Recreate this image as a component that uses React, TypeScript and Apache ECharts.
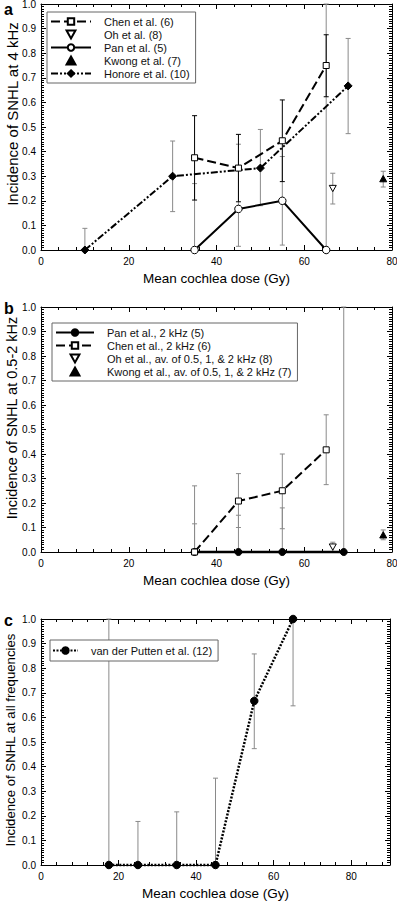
import React, { useEffect, useRef } from 'react';
import * as echarts from 'echarts';

const FONT = '"Liberation Sans", Arial, Helvetica, sans-serif';

// ---------- Panel a: 4 kHz ----------
const chenA = [[35, 0.375], [45, 0.333], [55, 0.444], [65, 0.75]];
const chenAErr = [[35, 0.203, 0.546], [45, 0.196, 0.47], [55, 0.278, 0.61], [65, 0.623, 0.875]];
const ohA = [[66.5, 0.25]];
const ohAErr = [[66.5, 0.187, 0.312]];
const panA = [[35, 0], [45, 0.167], [55, 0.2], [65, 0]];
const panAErr = [[35, 0, 0.27], [45, 0.015, 0.43], [55, 0.02, 0.38], [65, 0, 1.0]];
const kwongA = [[78, 0.29]];
const kwongAErr = [[78, 0.256, 0.32]];
const honoreA = [[10, 0], [30, 0.3], [50, 0.333], [70, 0.667]];
const honoreAErr = [[10, 0, 0.088], [30, 0.156, 0.443], [50, 0.18, 0.49], [70, 0.473, 0.86]];

// ---------- Panel b: 0.5-2 kHz ----------
const panB = [[35, 0], [45, 0], [55, 0], [69, 0]];
const panBErr = [[35, 0, 0.115], [45, 0, 0.15], [55, 0, 0.18], [69, 0, 1.0]];
const chenB = [[35, 0], [45, 0.208], [55, 0.25], [65, 0.417]];
const chenBErr = [[35, 0, 0.27], [45, 0.1, 0.32], [55, 0.095, 0.4], [65, 0.275, 0.56]];
const ohB = [[66.5, 0.02]];
const ohBErr = [[66.5, 0, 0.04]];
const kwongB = [[78, 0.07]];
const kwongBErr = [[78, 0.05, 0.09]];

// ---------- Panel c: all frequencies ----------
const vdpC = [[17.5, 0], [25, 0], [35, 0], [45, 0], [55, 0.667], [65, 1.0]];
const vdpCErr = [[17.5, 0, 1.0], [25, 0, 0.177], [35, 0, 0.216], [45, 0, 0.353], [55, 0.473, 0.858], [65, 0.647, 1.0]];

const xTitle = 'Mean cochlea dose (Gy)';
const yTitles = ['Incidence of SNHL at 4 kHz', 'Incidence of SNHL at 0.5-2 kHz', 'Incidence of SNHL at all frequencies'];
const panelLetters = ['a', 'b', 'c'];
const xMaxes = [80, 80, 90];

const GRIDS = [
  { left: 41, top: 4, width: 351, height: 246 },
  { left: 41, top: 307, width: 351, height: 245 },
  { left: 41, top: 619, width: 349, height: 246 },
];
const Y_TITLE_SIZE = [15, 14.5, 13.2];
const Y_TITLE_POS = [[12, 114], [12, 418], [10.5, 740]];

const BLACK = '#000';
const GRAY = '#8a8a8a';
const DOWN_TRI = 'path://M0,0L10,0L5,9Z';
const UP_TRI = 'path://M5,0L10,9L0,9Z';

function errSeries(data: number[][], gi: number, color: string, z = 1) {
  return {
    type: 'custom',
    xAxisIndex: gi * 2,
    yAxisIndex: gi * 2,
    data,
    z,
    silent: true,
    clip: false,
    encode: { x: 0, y: [1, 2] },
    renderItem: (params: any, api: any) => {
      const x = api.value(0);
      const lo = api.coord([x, api.value(1)]);
      const hi = api.coord([x, api.value(2)]);
      const w = 2.5;
      const st = { stroke: color, lineWidth: 1 };
      return {
        type: 'group',
        children: [
          { type: 'line', shape: { x1: lo[0], y1: lo[1], x2: hi[0], y2: hi[1] }, style: st },
          { type: 'line', shape: { x1: lo[0] - w, y1: lo[1], x2: lo[0] + w, y2: lo[1] }, style: st },
          { type: 'line', shape: { x1: hi[0] - w, y1: hi[1], x2: hi[0] + w, y2: hi[1] }, style: st },
        ],
      };
    },
  };
}

function lineSeries(name: string, data: number[][], gi: number, opts: any) {
  return {
    name,
    type: 'line',
    xAxisIndex: gi * 2,
    yAxisIndex: gi * 2,
    data,
    z: 3,
    clip: false,
    symbol: opts.symbol,
    symbolSize: opts.symbolSize,
    itemStyle: { color: opts.fill, borderColor: BLACK, borderWidth: 1 },
    lineStyle: { color: BLACK, width: opts.width, type: opts.dash },
    showSymbol: true,
  };
}

function scatterSeries(name: string, data: number[][], gi: number, opts: any) {
  return {
    name,
    type: 'scatter',
    xAxisIndex: gi * 2,
    yAxisIndex: gi * 2,
    data,
    z: 3,
    clip: false,
    symbol: opts.symbol,
    symbolSize: opts.symbolSize,
    symbolKeepAspect: true,
    itemStyle: { color: opts.fill, borderColor: BLACK, borderWidth: 1, opacity: 1 },
  };
}

function axesFor(gi: number) {
  const xMax = xMaxes[gi];
  const tick = { show: true, inside: true, length: 5, lineStyle: { color: BLACK, width: 1 } };
  const minor = (n: number) => ({ show: true, splitNumber: n, length: 3, lineStyle: { color: BLACK, width: 1 } });
  const line = { show: true, onZero: false, lineStyle: { color: BLACK, width: 1 } };
  const xs = [
    {
      type: 'value', gridIndex: gi, position: 'bottom', min: 0, max: xMax, interval: 20,
      axisLine: line, axisTick: tick, minorTick: minor(5), splitLine: { show: false },
      axisLabel: { show: true, fontSize: 10, color: BLACK, fontFamily: FONT, margin: 6, showMaxLabel: xMax === 80 },
      name: xTitle, nameLocation: 'middle', nameGap: 21,
      nameTextStyle: { fontSize: 13.5, color: BLACK, fontFamily: FONT },
    },
    {
      type: 'value', gridIndex: gi, position: 'top', min: 0, max: xMax, interval: 20,
      axisLine: line, axisTick: tick, minorTick: minor(5), splitLine: { show: false },
      axisLabel: { show: false },
    },
  ];
  const ys = [
    {
      type: 'value', gridIndex: gi, position: 'left', min: 0, max: 1, interval: 0.1,
      axisLine: line, axisTick: tick, minorTick: minor(10), splitLine: { show: false },
      axisLabel: { show: true, fontSize: 10, color: BLACK, fontFamily: FONT, margin: 5, formatter: (v: number) => v.toFixed(1) },
    },
    {
      type: 'value', gridIndex: gi, position: 'right', min: 0, max: 1, interval: 0.1,
      axisLine: line, axisTick: tick, minorTick: minor(10), splitLine: { show: false },
      axisLabel: { show: false },
    },
  ];
  return { xs, ys };
}

function legendCommon() {
  return {
    orient: 'vertical',
    selectedMode: false,
    itemHeight: 8,
    itemGap: 2,
    symbolKeepAspect: true,
    borderColor: '#666',
    borderWidth: 1,
    borderRadius: 0,
    backgroundColor: '#fff',
    textStyle: { fontSize: 11, color: '#111', fontFamily: FONT, lineHeight: 11, padding: [0, 0, 0, 8] },
  };
}

export default function App() {
  const ref = useRef<HTMLDivElement>(null);
  useEffect(() => {
    if (!ref.current) return;
    const chart = echarts.init(ref.current, undefined, { renderer: 'svg' });
    const xAxis: any[] = [];
    const yAxis: any[] = [];
    for (let gi = 0; gi < 3; gi++) {
      const { xs, ys } = axesFor(gi);
      xAxis.push(...xs);
      yAxis.push(...ys);
    }
    const series: any[] = [
      // panel a
      errSeries(panAErr, 0, GRAY),
      errSeries(honoreAErr, 0, GRAY),
      errSeries(ohAErr, 0, GRAY),
      errSeries(kwongAErr, 0, GRAY),
      errSeries(chenAErr, 0, BLACK, 2),
      lineSeries('Chen et al. (6)', chenA, 0, { symbol: 'rect', symbolSize: 6, fill: '#fff', width: 2, dash: [9, 4] }),
      scatterSeries('Oh et al. (8)', ohA, 0, { symbol: DOWN_TRI, symbolSize: 7, fill: '#fff' }),
      lineSeries('Pan et al. (5)', panA, 0, { symbol: 'circle', symbolSize: 7.5, fill: '#fff', width: 2, dash: 'solid' }),
      scatterSeries('Kwong et al. (7)', kwongA, 0, { symbol: UP_TRI, symbolSize: 7, fill: BLACK }),
      lineSeries('Honore et al. (10)', honoreA, 0, { symbol: 'diamond', symbolSize: 8, fill: BLACK, width: 2, dash: [7, 2, 2, 2, 2, 2] }),
      // panel b
      errSeries(panBErr, 1, GRAY),
      errSeries(chenBErr, 1, GRAY),
      errSeries(ohBErr, 1, GRAY),
      errSeries(kwongBErr, 1, GRAY),
      lineSeries('Pan et al., 2 kHz (5)', panB, 1, { symbol: 'circle', symbolSize: 7, fill: BLACK, width: 2.5, dash: 'solid' }),
      lineSeries('Chen et al., 2 kHz (6)', chenB, 1, { symbol: 'rect', symbolSize: 6, fill: '#fff', width: 2, dash: [9, 4] }),
      scatterSeries('Oh et al., av. of 0.5, 1, & 2 kHz (8)', ohB, 1, { symbol: DOWN_TRI, symbolSize: 7, fill: '#fff' }),
      scatterSeries('Kwong et al., av. of 0.5, 1, & 2 kHz (7)', kwongB, 1, { symbol: UP_TRI, symbolSize: 7, fill: BLACK }),
      // panel c
      errSeries(vdpCErr, 2, GRAY),
      lineSeries('van der Putten et al. (12)', vdpC, 2, { symbol: 'circle', symbolSize: 7.5, fill: BLACK, width: 2.5, dash: [2, 1.5] }),
    ];
    const legends = [
      { ...legendCommon(), left: 47, top: 12, itemWidth: 40, padding: [4, 6, 4, 3],
        data: ['Chen et al. (6)', 'Oh et al. (8)', 'Pan et al. (5)', 'Kwong et al. (7)', 'Honore et al. (10)'] },
      { ...legendCommon(), left: 52, top: 323, itemWidth: 38, padding: [4, 6, 4, 3],
        data: ['Pan et al., 2 kHz (5)', 'Chen et al., 2 kHz (6)', 'Oh et al., av. of 0.5, 1, & 2 kHz (8)', 'Kwong et al., av. of 0.5, 1, & 2 kHz (7)'] },
      { ...legendCommon(), left: 50, top: 640, itemWidth: 25, padding: [5, 6, 5, 2],
        data: ['van der Putten et al. (12)'] },
    ];
    const letters = panelLetters.map((t, i) => ({
      type: 'text',
      left: 4,
      top: [1, 300, 612][i],
      style: { text: t, fontSize: 16, fontWeight: 'bold', fontFamily: FONT, fill: BLACK },
    }));
    const yNames = yTitles.map((t, i) => ({
      type: 'text',
      x: Y_TITLE_POS[i][0],
      y: Y_TITLE_POS[i][1],
      rotation: Math.PI / 2,
      style: { text: t, fontSize: Y_TITLE_SIZE[i], fontFamily: FONT, fill: BLACK, align: 'center', verticalAlign: 'middle' },
    }));
    chart.setOption({
      animation: false,
      backgroundColor: '#fff',
      grid: GRIDS.map((g) => ({ ...g, containLabel: false, outerBoundsMode: 'none' })),
      xAxis,
      yAxis,
      legend: legends,
      series,
      graphic: [...letters, ...yNames],
    });
    return () => chart.dispose();
  }, []);
  return <div ref={ref} style={{ position: 'fixed', left: 0, top: 0, width: 397, height: 901, background: '#fff' }} />;
}
